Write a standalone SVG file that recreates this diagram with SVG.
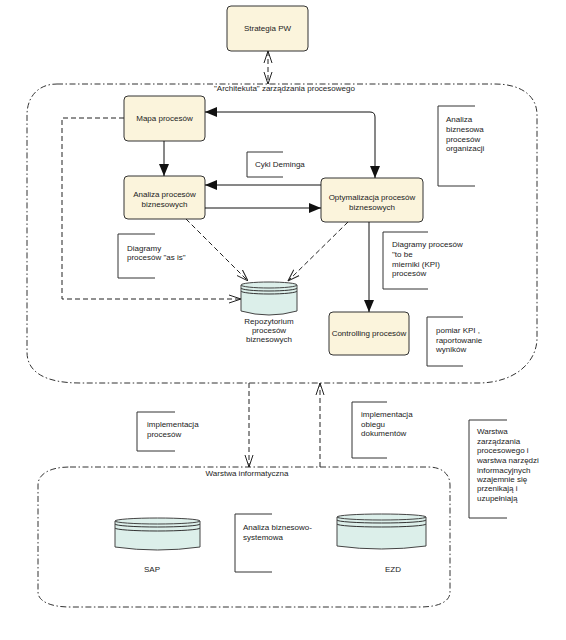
<svg xmlns="http://www.w3.org/2000/svg" width="566" height="640" viewBox="0 0 566 640">
<style>
text{font-family:"Liberation Sans",Arial,sans-serif;font-size:8px;fill:#222}
.box{fill:#fbf4dc;stroke:#333;stroke-width:1}
.note{fill:none;stroke:#333;stroke-width:1}
.bound{fill:none;stroke:#333;stroke-width:1;stroke-dasharray:6,2.5,1.5,2.5}
.cyl{fill:#dcefea;stroke:#444;stroke-width:1}
.solid{fill:none;stroke:#111;stroke-width:1}
.dash{fill:none;stroke:#222;stroke-width:1;stroke-dasharray:5,3}
.c{text-anchor:middle}
</style>
<defs>
<marker id="fa" viewBox="0 0 12 10" refX="12" refY="5" markerWidth="12" markerHeight="10" markerUnits="userSpaceOnUse" orient="auto-start-reverse"><path d="M0,0 L12,5 L0,10 Z" fill="#111"/></marker>
<marker id="oa" viewBox="0 0 12 10" refX="12" refY="5" markerWidth="12" markerHeight="10" markerUnits="userSpaceOnUse" orient="auto-start-reverse"><path d="M0,1 L12,5 L0,9" fill="none" stroke="#222" stroke-width="1"/></marker>
</defs>
<rect width="566" height="640" fill="#fff"/>

<g id="boundary-architektura">
<path class="bound" d="M57,84 H495 C520,84 537,95 537,115 V338 C537,362 515,383 478,383 H80 C45,383 27,372 27,352 V115 C27,97 38,84 57,84 Z"/>
<text x="214" y="91">"Architekuta" zarządzania procesowego</text>
</g>

<g id="boundary-warstwa">
<path class="bound" d="M70,467 H428 C442,467 450,474 450,485 V592 C450,601 440,607 420,607 H70 C50,607 38,601 38,592 V485 C38,474 50,467 70,467 Z"/>
<text x="247" y="476" class="c">Warstwa  informatyczna</text>
</g>

<g id="strategia">
<rect class="box" x="227" y="6" width="81" height="45" rx="4"/>
<text x="267.5" y="31" class="c">Strategia PW</text>
</g>

<g id="mapa">
<rect class="box" x="124" y="96" width="81" height="45" rx="4"/>
<text x="164.5" y="121" class="c">Mapa procesów</text>
</g>

<g id="analiza">
<rect class="box" x="124" y="176" width="81" height="43" rx="4"/>
<text x="164.5" y="197" class="c">Analiza procesów</text>
<text x="164.5" y="207" class="c">biznesowych</text>
</g>

<g id="optymalizacja">
<rect class="box" x="321" y="178" width="102" height="44" rx="4"/>
<text x="372" y="200" class="c">Optymalizacja procesów</text>
<text x="372" y="210" class="c">biznesowych</text>
</g>

<g id="controlling">
<rect class="box" x="329" y="312" width="80" height="43" rx="4"/>
<text x="369" y="336" class="c">Controlling procesów</text>
</g>

<g id="repozytorium">
<path class="cyl" d="M241,285 V311 Q269,319 297,311 V285 Z"/>
<ellipse class="cyl" cx="269" cy="285" rx="28" ry="3"/>
<path class="note" d="M241,288 A28,3 0 0 0 297,288 M241,291 A28,3 0 0 0 297,291"/>
<text x="269" y="324" class="c">Repozytorium</text>
<text x="269" y="333" class="c">procesów</text>
<text x="269" y="342" class="c">biznesowych</text>
</g>

<g id="sap">
<path class="cyl" d="M115,521 V547 Q157.5,553 200,547 V521 Z"/>
<ellipse class="cyl" cx="157.5" cy="521" rx="42.5" ry="3"/>
<path class="note" d="M115,524 A42.5,3 0 0 0 200,524 M115,528 A42.5,3 0 0 0 200,528"/>
<text x="152" y="572" class="c">SAP</text>
</g>

<g id="ezd">
<path class="cyl" d="M337,517 V546 Q381.5,552 426,546 V517 Z"/>
<ellipse class="cyl" cx="381.5" cy="517" rx="44.5" ry="3"/>
<path class="note" d="M337,520 A44.5,3 0 0 0 426,520 M337,524 A44.5,3 0 0 0 426,524"/>
<text x="393" y="572" class="c">EZD</text>
</g>

<g id="note-deming">
<path class="note" d="M283,152 H247 V177 H283"/>
<text x="255" y="167">Cykl Deminga</text>
</g>

<g id="note-analiza-biznesowa">
<path class="note" d="M475,106 H438 V186 H475"/>
<text x="446" y="122">Analiza</text>
<text x="446" y="132">biznesowa</text>
<text x="446" y="142">procesów</text>
<text x="446" y="151">organizacji</text>
</g>

<g id="note-as-is">
<path class="note" d="M155,234 H118 V278 H155"/>
<text x="127" y="251">Diagramy</text>
<text x="127" y="260">procesów "as is"</text>
</g>

<g id="note-to-be">
<path class="note" d="M428,232 H383 V289 H428"/>
<text x="392" y="247">Diagramy procesów</text>
<text x="392" y="257">"to be</text>
<text x="392" y="267">mierniki (KPI)</text>
<text x="392" y="276">procesów</text>
</g>

<g id="note-kpi">
<path class="note" d="M463,317 H427 V366 H463"/>
<text x="436" y="333">pomiar KPI ,</text>
<text x="436" y="343">raportowanie</text>
<text x="436" y="352">wyników</text>
</g>

<g id="note-impl-procesow">
<path class="note" d="M175,412 H137 V451 H175"/>
<text x="147" y="427">implementacja</text>
<text x="147" y="437">procesów</text>
</g>

<g id="note-impl-obiegu">
<path class="note" d="M387,402 H352 V458 H387"/>
<text x="361" y="417">implementacja</text>
<text x="361" y="427">obiegu</text>
<text x="361" y="436">dokumentów</text>
</g>

<g id="note-warstwa">
<path class="note" d="M507,420 H469 V518 H507"/>
<text x="477" y="434">Warstwa</text>
<text x="477" y="444">zarządzania</text>
<text x="477" y="453">procesowego i</text>
<text x="477" y="463">warstwa narzędzi</text>
<text x="477" y="473">informacyjnych</text>
<text x="477" y="482">wzajemnie się</text>
<text x="477" y="491">przenikają i</text>
<text x="477" y="501">uzupełniają</text>
</g>

<g id="note-biznesowo-systemowa">
<path class="note" d="M272,514 H235 V572 H272"/>
<text x="243" y="530">Analiza biznesowo-</text>
<text x="243" y="540">systemowa</text>
</g>

<g id="connectors">
<path class="dash" d="M268,51 V84" marker-start="url(#oa)" marker-end="url(#oa)"/>
<path class="solid" d="M164,141 V176" marker-end="url(#fa)"/>
<path class="solid" d="M205,112 H370 Q375,112 375,117 V178" marker-start="url(#fa)" marker-end="url(#fa)"/>
<path class="solid" d="M321,185 H205" marker-end="url(#fa)"/>
<path class="solid" d="M205,208 H321" marker-end="url(#fa)"/>
<path class="dash" d="M186,219 L248,281" marker-end="url(#oa)"/>
<path class="dash" d="M348,222 L288,281" marker-end="url(#oa)"/>
<path class="dash" d="M124,118 H62 V299 H241" marker-end="url(#oa)"/>
<path class="solid" d="M369,222 V312" marker-end="url(#fa)"/>
<path class="dash" d="M249,383 V467" marker-end="url(#oa)"/>
<path class="dash" d="M320,467 V383" marker-end="url(#oa)"/>
</g>
</svg>
